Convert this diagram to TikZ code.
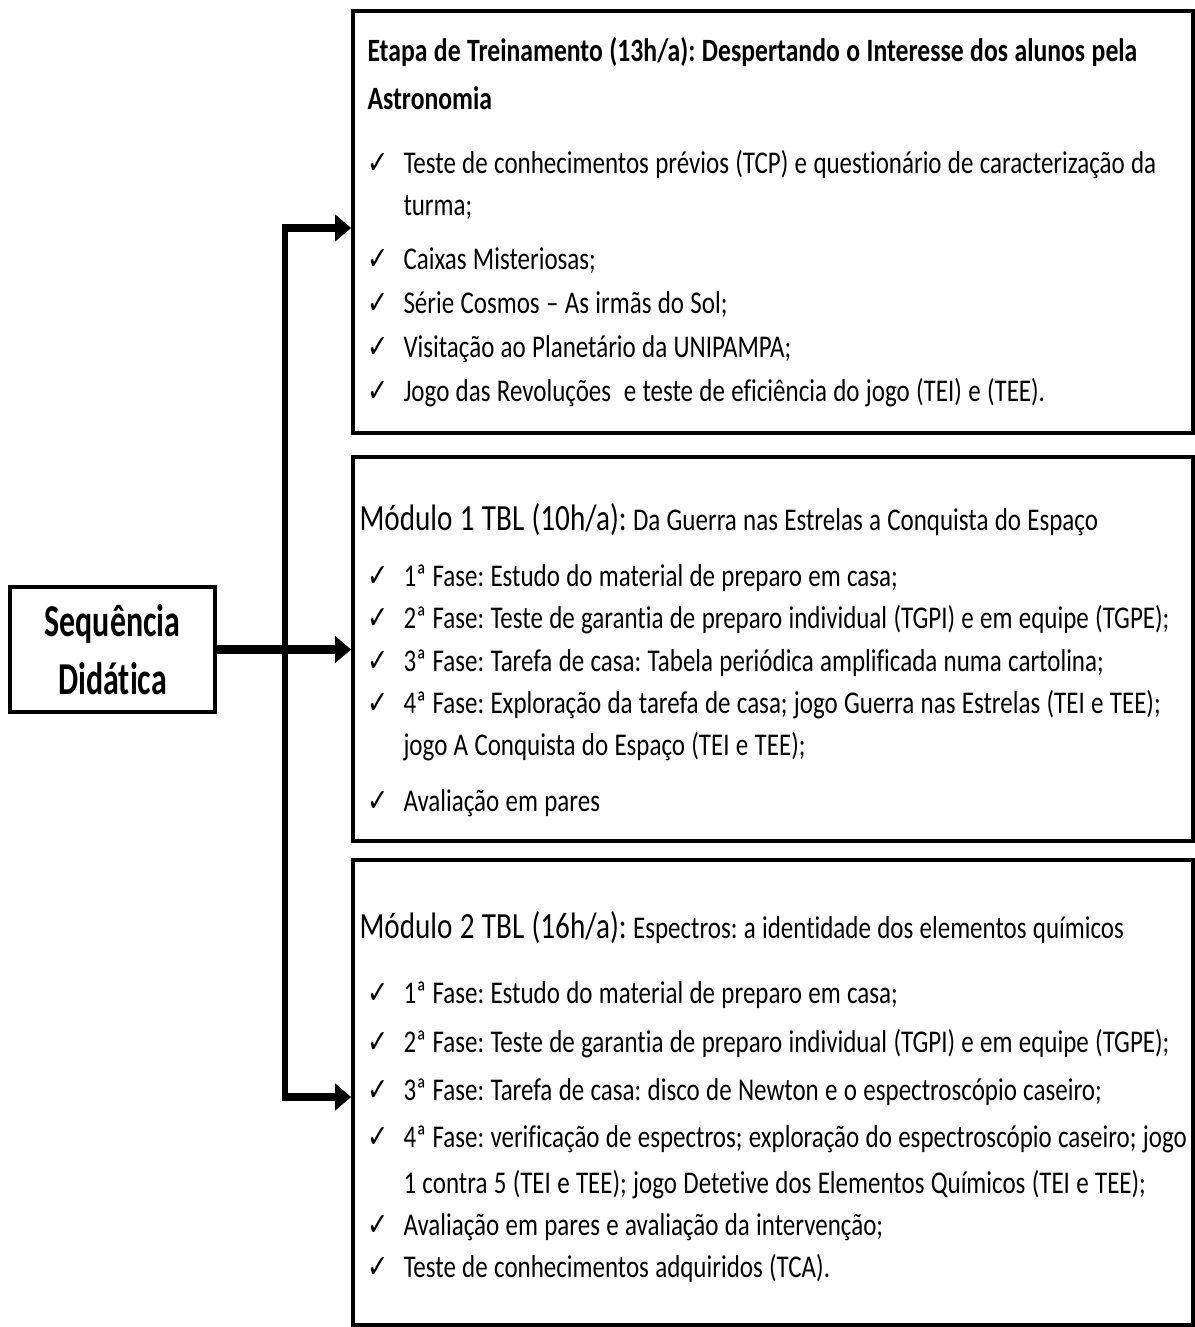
\documentclass[tikz,border=0pt]{standalone}
\usepackage{fontspec}
\setmainfont{Carlito}[FakeStretch=0.79, Ligatures=NoCommon]
\newfontfamily\estreita{Carlito}[FakeStretch=0.7, Ligatures=NoCommon]
\newfontfamily\simbolo{DejaVu Sans}[FakeStretch=0.8]
\usetikzlibrary{arrows.meta}
\frenchspacing

%% font size with a narrow space between words
\newcommand{\tam}[2]{\fontsize{#1}{#2}\selectfont\spaceskip=0.2em\relax}
%% check mark at the start of each item, and the indent for a wrapped line
\newcommand{\chk}{\makebox[0.72cm][l]{\simbolo\char"2713}}
\newcommand{\recuo}{\hspace*{0.72cm}}

\tikzset{
  caixa/.style={draw=black, line width=2.2pt, minimum width=16.8cm},
  texto/.style={anchor=north west, inner sep=0pt, text width=17cm, align=left,
    font=\fontsize{18}{24}\selectfont},
  seta/.style={line width=4.5pt, -{Triangle[length=0.32cm,width=0.52cm]}},
}

\begin{document}
\begin{tikzpicture}[x=0.02cm, y=-0.02cm]
\useasboundingbox (0,0) rectangle (1195,1327);
%% The box on the left
\node[draw, line width=2.2pt, minimum width=4.1cm, minimum height=2.5cm, align=center,
  font=\estreita\bfseries\fontsize{26}{33}\selectfont] (seq) at (112.5,649.5) {Sequência\\Didática};
%% The three boxes on the right, one above the other
\node[caixa, minimum height=8.44cm] (etapa) at (773,222) {};
\node[caixa, minimum height=7.68cm] (mod1) at (773,649) {};
\node[caixa, minimum height=9.3cm] (mod2) at (773,1092.5) {};
%% Their texts
\node[texto] (etapatxt) at ([shift={(16,28)}]etapa.north west) {\tam{18}{24}%
  {\bfseries\tam{18.5}{24}Etapa de Treinamento (13h/a): Despertando o Interesse dos alunos pela\\[3.5pt]
  Astronomia}\\[12pt]
  \chk Teste de conhecimentos prévios (TCP) e questionário de caracterização da\\
  \recuo turma;\\[7pt]
  \chk Caixas Misteriosas;\\[1pt]
  \chk Série Cosmos -- As irmãs do Sol;\\[1pt]
  \chk Visitação ao Planetário da UNIPAMPA;\\[1pt]
  \chk Jogo das Revoluções \ e teste de eficiência do jogo (TEI) e (TEE).};
\node[texto] (mod1txt) at ([shift={(16,48)}]mod1.north west) {\tam{18}{24}%
  \hspace*{-0.16cm}{\tam{21}{24}Módulo 1 TBL (10h/a):}
  {\tam{18}{24}Da Guerra nas Estrelas a Conquista do Espaço}\\[8pt]
  \chk 1ª Fase: Estudo do material de preparo em casa;\\
  \chk 2ª Fase: Teste de garantia de preparo individual (TGPI) e em equipe (TGPE);\\
  \chk 3ª Fase: Tarefa de casa: Tabela periódica amplificada numa cartolina;\\
  \chk 4ª Fase: Exploração da tarefa de casa; jogo Guerra nas Estrelas (TEI e TEE);\\
  \recuo jogo A Conquista do Espaço (TEI e TEE);\\[8pt]
  \chk Avaliação em pares};
\node[texto] (mod2txt) at ([shift={(16,53)}]mod2.north west) {\tam{18}{24}%
  \hspace*{-0.16cm}{\tam{21}{24}Módulo 2 TBL (16h/a):}
  {\tam{18}{24}Espectros: a identidade dos elementos químicos}\\[13pt]
  \chk 1ª Fase: Estudo do material de preparo em casa;\\[4pt]
  \chk 2ª Fase: Teste de garantia de preparo individual (TGPI) e em equipe (TGPE);\\[3pt]
  \chk 3ª Fase: Tarefa de casa: disco de Newton e o espectroscópio caseiro;\\[3pt]
  \chk 4ª Fase: verificação de espectros; exploração do espectroscópio caseiro; jogo\\[2pt]
  \recuo 1 contra 5 (TEI e TEE); jogo Detetive dos Elementos Químicos (TEI e TEE);\\
  \chk Avaliação em pares e avaliação da intervenção;\\
  \chk Teste de conhecimentos adquiridos (TCA).};
%% The vertical line and the arrows
\coordinate (topo) at (285,228);
\coordinate (base) at (285,1097);
\draw[line width=3.4pt] (topo) -- (base);
\draw[seta] ([xshift=-1.7pt]topo) -- (topo -| etapa.west);
\draw[seta] ([xshift=-1.7pt]base) -- (base -| mod2.west);
\draw[seta, line width=5.5pt] (seq.east) -- (seq.east -| mod1.west);
\end{tikzpicture}
\end{document}
